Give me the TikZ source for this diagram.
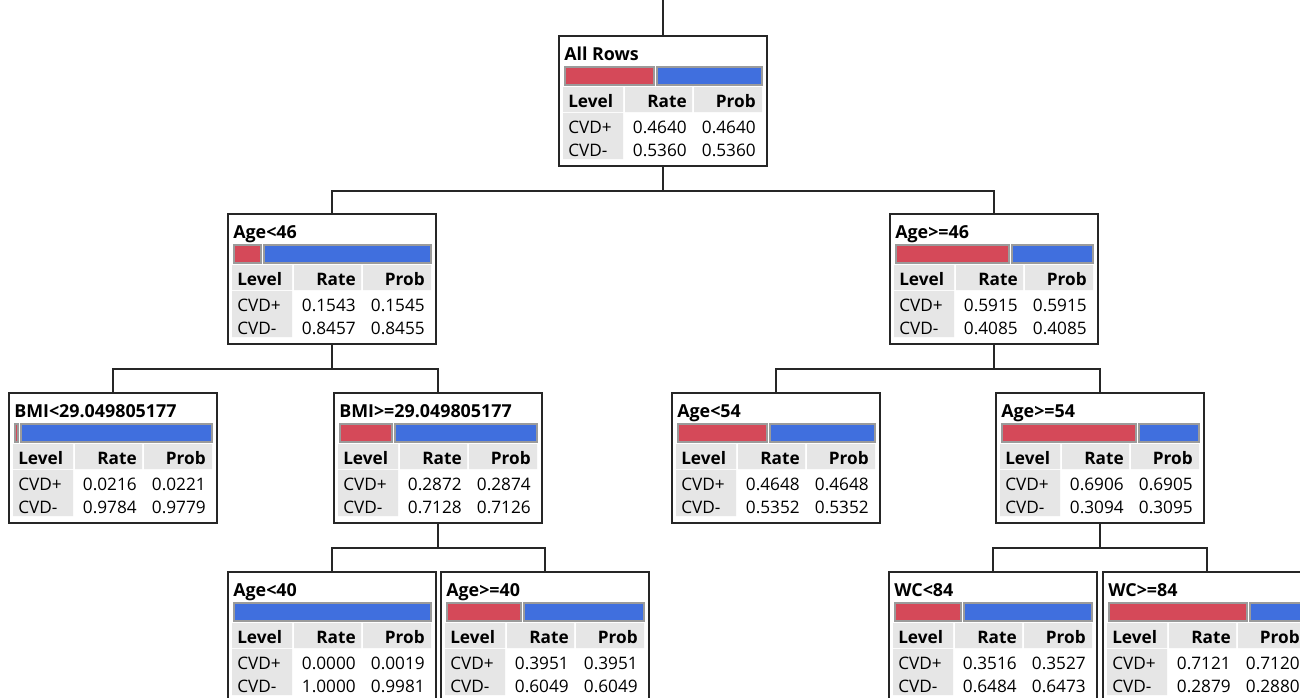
\documentclass[tikz,border=0pt]{standalone}
\usepackage{fontspec}
\setmainfont{Open Sans}
\usepackage{xcolor}
\usepackage{tikz}

\definecolor{cvdred}{RGB}{213,73,89}
\definecolor{cvdblue}{RGB}{64,111,222}
\definecolor{cellgray}{RGB}{230,230,230}
\definecolor{barrim}{RGB}{155,155,155}

% one split of the tree: name, left, top, title, red bar width, rate/prob CVD+, rate/prob CVD-
\newcommand{\splitbox}[9]{%
  \node[treebox] (#1) at (#2+104,#3+65) {};
  \begin{scope}[shift={(#2,#3)}]
    \node[txt,anchor=base west,font=\fontsize{13.4}{15}\selectfont\bfseries] (#1-title) at (5,24) {#4};
    \ifdim #5pt>0pt
      \draw[bar,fill=cvdred] (6,31) rectangle (6+#5,49);
      \draw[bar,fill=cvdblue] (9+#5,31) rectangle (203,49);
    \else
      \draw[bar,fill=cvdblue] (6,31) rectangle (203,49);
    \fi
    \fill[cellgray] (4,51) rectangle (64,76) (66,51) rectangle (133,76)
      (135,51) rectangle (203,76) (4,77) rectangle (64,123);
    \node[txt,anchor=base west] (#1-lv) at (9,71) {\bfseries Level};
    \node[txt,anchor=base east] (#1-rt) at (128,71) {\bfseries Rate};
    \node[txt,anchor=base east] (#1-pb) at (197,71) {\bfseries Prob};
    \node[txt,anchor=base west] (#1-pos) at (9,97) {CVD+};
    \node[txt,anchor=base west] (#1-neg) at (9,120) {CVD-};
    \node[txt,anchor=base east] (#1-r1) at (128,97) {#6};
    \node[txt,anchor=base east] (#1-p1) at (197,97) {#7};
    \node[txt,anchor=base east] (#1-r2) at (128,120) {#8};
    \node[txt,anchor=base east] (#1-p2) at (197,120) {#9};
  \end{scope}
}

\begin{document}
\begin{tikzpicture}[
  x=0.75pt,y=-0.75pt,
  treebox/.style={draw=black!85,line width=1.1pt,fill=white,minimum width=156pt,minimum height=97.5pt,inner sep=0pt,outer sep=0pt},
  txt/.style={inner sep=0pt,font=\fontsize{12.9}{15}\selectfont},
  bar/.style={draw=barrim,line width=1pt},
  conn/.style={draw=black!85,line width=1.1pt}
]
\clip (0,0) rectangle (1300,697);

\splitbox{allrows}{559}{36}{All Rows}{89}{0.4640}{0.4640}{0.5360}{0.5360}
\splitbox{agelo}{228}{214}{Age<46}{27}{0.1543}{0.1545}{0.8457}{0.8455}
\splitbox{agehi}{890}{214}{Age>=46}{113}{0.5915}{0.5915}{0.4085}{0.4085}
\splitbox{bmilo}{9}{393}{BMI<29.049805177}{3}{0.0216}{0.0221}{0.9784}{0.9779}
\splitbox{bmihi}{334}{393}{BMI>=29.049805177}{52}{0.2872}{0.2874}{0.7128}{0.7126}
\splitbox{agemidlo}{672}{393}{Age<54}{89}{0.4648}{0.4648}{0.5352}{0.5352}
\splitbox{agemidhi}{996}{393}{Age>=54}{134}{0.6906}{0.6905}{0.3094}{0.3095}
\splitbox{youngest}{228}{572}{Age<40}{0}{0.0000}{0.0019}{1.0000}{0.9981}
\splitbox{young}{441}{572}{Age>=40}{74}{0.3951}{0.3951}{0.6049}{0.6049}
\splitbox{wclo}{889}{572}{WC<84}{66}{0.3516}{0.3527}{0.6484}{0.6473}
\splitbox{wchi}{1103}{572}{WC>=84}{138}{0.7121}{0.7120}{0.2879}{0.2880}

\coordinate (stem) at (663,0);
\draw[conn] (stem) -- (allrows.north);
\draw[conn] (allrows.south) -- ++(0,25) -| (agelo.north);
\draw[conn] (allrows.south) -- ++(0,25) -| (agehi.north);
\draw[conn] (agelo.south) -- ++(0,25) -| (bmilo.north);
\draw[conn] (agelo.south) -- ++(0,25) -| (bmihi.north);
\draw[conn] (agehi.south) -- ++(0,25) -| (agemidlo.north);
\draw[conn] (agehi.south) -- ++(0,25) -| (agemidhi.north);
\draw[conn] (bmihi.south) -- ++(0,25) -| (youngest.north);
\draw[conn] (bmihi.south) -- ++(0,25) -| (young.north);
\draw[conn] (agemidhi.south) -- ++(0,25) -| (wclo.north);
\draw[conn] (agemidhi.south) -- ++(0,25) -| (wchi.north);
\end{tikzpicture}
\end{document}
